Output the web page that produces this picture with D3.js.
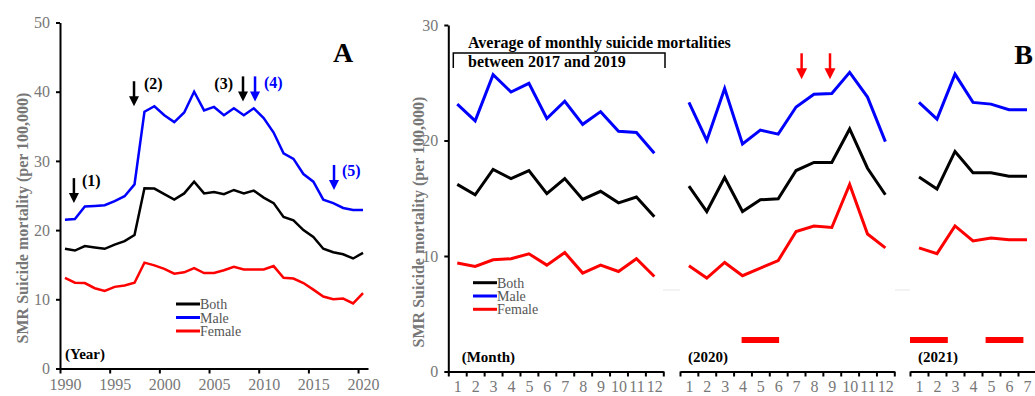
<!DOCTYPE html>
<html>
<head>
<meta charset="utf-8">
<script src="https://cdn.jsdelivr.net/npm/d3@7/dist/d3.min.js"></script>
<style>
  html, body { margin: 0; padding: 0; background: #fff; }
  svg { display: block; font-family: "Liberation Serif", "Times New Roman", serif; }
</style>
</head>
<body>
<svg id="chart" width="1035" height="396"></svg>
<script>
// ---- Panel A: yearly SMR suicide mortality (per 100,000) ----
const years = [1990,1991,1992,1993,1994,1995,1996,1997,1998,1999,2000,2001,2002,2003,2004,2005,
               2006,2007,2008,2009,2010,2011,2012,2013,2014,2015,2016,2017,2018,2019,2020];
const yearBoth   = [17.3,17.05,17.7,17.5,17.3,17.9,18.4,19.3,26.05,26.0,25.2,24.4,25.3,27.0,25.3,25.5,
                    25.2,25.8,25.3,25.7,24.7,23.9,21.9,21.4,20.0,19.0,17.3,16.8,16.5,15.9,16.7];
const yearMale   = [21.5,21.6,23.4,23.5,23.6,24.2,24.9,26.6,37.1,37.9,36.6,35.6,37.0,40.0,37.3,37.8,
                    36.6,37.6,36.6,37.6,36.2,34.1,31.1,30.3,28.1,27.0,24.4,23.9,23.2,22.9,22.9];
const yearFemale = [13.1,12.4,12.35,11.6,11.2,11.8,12.0,12.4,15.3,14.9,14.4,13.7,13.9,14.5,13.8,13.8,
                    14.2,14.7,14.3,14.3,14.3,14.8,13.1,13.0,12.35,11.4,10.4,10.0,10.1,9.4,10.9];
const yearTickLabels = [1990,1995,2000,2005,2010,2015,2020];
const yearYTicks = [0,10,20,30,40,50];

// Arrow markers in panel A (year position, arrow-tip value)
const yearArrows = [
  {label: "(1)", year: 1990.9, tip: 23.9, color: "#000", dx: 8,   dy: -17, anchor: "start"},
  {label: "(2)", year: 1996.95, tip: 37.9, color: "#000", dx: 10, dy: -17, anchor: "start"},
  {label: "(3)", year: 2007.92, tip: 38.6, color: "#000", dx: -10, dy: -12, anchor: "end"},
  {label: "(4)", year: 2009.13, tip: 38.6, color: "#0000ff", dx: 9, dy: -13, anchor: "start"},
  {label: "(5)", year: 2017.08, tip: 25.8, color: "#0000ff", dx: 8, dy: -14, anchor: "start"}
];

// ---- Panel B: monthly SMR suicide mortality ----
const months = [1,2,3,4,5,6,7,8,9,10,11,12];
const avgBoth   = [16.2,15.3,17.5,16.7,17.4,15.4,16.7,14.9,15.6,14.6,15.1,13.4];
const avgMale   = [23.15,21.7,25.7,24.2,24.95,21.9,23.4,21.4,22.5,20.8,20.7,18.9];
const avgFemale = [9.39,9.09,9.67,9.76,10.19,9.21,10.3,8.52,9.21,8.66,9.76,8.23];

const y2020Both   = [16.05,13.85,16.8,13.85,14.87,14.95,17.4,18.1,18.1,21.0,17.6,15.3];
const y2020Male   = [23.3,20.0,24.5,19.7,20.9,20.55,22.9,24.0,24.07,25.9,23.76,19.9];
const y2020Female = [9.15,8.09,9.44,8.29,8.95,9.61,12.12,12.6,12.47,16.2,11.9,10.7];

const y2021Both   = [16.83,15.8,19.05,17.2,17.2,16.9,16.9];
const y2021Male   = [23.3,21.85,25.75,23.3,23.15,22.66,22.66];
const y2021Female = [10.7,10.2,12.6,11.3,11.55,11.4,11.4];

const monthYTicks = [0,10,20,30];

// State-of-emergency periods (month boundaries, 0 = start of January)
const emergency2020 = [[3.45, 5.55]];
const emergency2021 = [[0, 2.1], [4.2, 6.3]];
// Red arrows in 2020 (month position, arrow-tip value)
const arrows2020 = [{month: 7.31, tip: 25.3}, {month: 8.9, tip: 25.3}];

const seriesNames  = ["Both", "Male", "Female"];
const seriesColors = ["#000000", "#0000ff", "#ff0000"];

const svg = d3.select("#chart");
const tickGray = "#777";

// ---------- helpers ----------
function drawArrow(g, x, yTip, color, len, headW, headH, sw) {
  g.append("line")
    .attr("x1", x).attr("x2", x)
    .attr("y1", yTip - len).attr("y2", yTip - headH + 1)
    .attr("stroke", color).attr("stroke-width", sw);
  g.append("path")
    .attr("d", `M${x - headW / 2},${yTip - headH} L${x + headW / 2},${yTip - headH} L${x},${yTip} Z`)
    .attr("fill", color);
}

function styleYAxis(g) {
  g.select(".domain").attr("stroke", "#000").attr("stroke-width", 2);
  g.selectAll(".tick line").attr("stroke", "#000").attr("stroke-width", 2);
  g.selectAll(".tick text")
    .attr("fill", tickGray)
    .attr("font-size", 16)
    .attr("font-family", "Liberation Serif, serif")
    .attr("x", -10);
}

function yLabel(x, yc, text) {
  svg.append("text")
    .attr("transform", `translate(${x},${yc}) rotate(-90)`)
    .attr("text-anchor", "middle")
    .attr("dy", "0.35em")
    .attr("font-size", 16)
    .attr("font-weight", "bold")
    .attr("fill", tickGray)
    .text(text);
}

function legend(x, y0, step) {
  seriesNames.forEach((name, i) => {
    const yy = y0 + i * step;
    svg.append("line")
      .attr("x1", x).attr("x2", x + 24)
      .attr("y1", yy).attr("y2", yy)
      .attr("stroke", seriesColors[i]).attr("stroke-width", 3);
    svg.append("text")
      .attr("x", x + 24).attr("y", yy + 5)
      .attr("font-size", 14)
      .attr("fill", "#555")
      .text(name);
  });
}

// ================= Panel A =================
const xA = d3.scaleLinear().domain([1989.5, 2020.5]).range([60, 368]);
const yA = d3.scaleLinear().domain([0, 50]).range([368.5, 22.5]);

const gAy = svg.append("g").attr("transform", "translate(60,0)")
  .call(d3.axisLeft(yA).tickValues(yearYTicks).tickSize(4).tickSizeOuter(0).tickPadding(10));
styleYAxis(gAy);

// x axis: boundary ticks every five years, labels centred on the year
const gAx = svg.append("g").attr("transform", `translate(0,${yA(0)})`);
gAx.call(d3.axisBottom(xA).tickValues(yearTickLabels.map(v => v - 0.5)).tickSize(5).tickSizeOuter(0).tickFormat(""));
gAx.select(".domain").attr("stroke", "#000").attr("stroke-width", 2);
gAx.selectAll(".tick line").attr("stroke", "#000").attr("stroke-width", 2);
const gAxl = svg.append("g").attr("transform", `translate(0,${yA(0)})`);
gAxl.call(d3.axisBottom(xA).tickValues(yearTickLabels).tickSize(0).tickFormat(d3.format("d")));
gAxl.select(".domain").remove();
gAxl.selectAll(".tick text").attr("y", 21.5).attr("dy", 0)
  .attr("fill", tickGray).attr("font-size", 16).attr("font-family", "Liberation Serif, serif");

const lineA = d3.line().x((d, i) => xA(years[i])).y(d => yA(d));
[yearBoth, yearMale, yearFemale].forEach((s, i) => {
  svg.append("path").datum(s)
    .attr("d", lineA)
    .attr("fill", "none")
    .attr("stroke", seriesColors[i])
    .attr("stroke-width", 2.5);
});

yearArrows.forEach(a => {
  const x = xA(a.year), yt = yA(a.tip);
  drawArrow(svg, x, yt, a.color, 25, 10, 10, 2.5);
  svg.append("text")
    .attr("x", x + a.dx).attr("y", yt + a.dy)
    .attr("text-anchor", a.anchor)
    .attr("font-size", 16).attr("font-weight", "bold")
    .attr("fill", a.color)
    .text(a.label);
});

svg.append("text").attr("x", 333).attr("y", 62)
  .attr("font-size", 28).attr("font-weight", "bold").text("A");
svg.append("text").attr("x", 65).attr("y", 359)
  .attr("font-size", 15).attr("font-weight", "bold").text("(Year)");
legend(176, 304, 13.5);
yLabel(22, 218, "SMR Suicide mortality (per 100,000)");

// ================= Panel B =================
const yB = d3.scaleLinear().domain([0, 30]).range([371.5, 25]);
const segments = [
  {x0: 448.3, x1: 663.3, data: [avgBoth, avgMale, avgFemale], tag: "(Month)", bars: []},
  {x0: 680,   x1: 894.3, data: [y2020Both, y2020Male, y2020Female], tag: "(2020)", bars: emergency2020},
  {x0: 910,   x1: 1126,  data: [y2021Both, y2021Male, y2021Female], tag: "(2021)", bars: emergency2021}
];

const gBy = svg.append("g").attr("transform", "translate(448.3,0)")
  .call(d3.axisLeft(yB).tickValues(monthYTicks).tickSize(4).tickSizeOuter(0).tickPadding(10));
styleYAxis(gBy);

segments.forEach((seg, si) => {
  const x = d3.scaleLinear().domain([0.5, 12.5]).range([seg.x0, seg.x1]);
  seg.x = x;
  const gx = svg.append("g").attr("transform", `translate(0,${yB(0)})`);
  gx.call(d3.axisBottom(x).tickValues(d3.range(0.5, 13, 1)).tickSize(5).tickSizeOuter(0).tickFormat(""));
  gx.select(".domain").attr("stroke", "#000").attr("stroke-width", 2);
  gx.selectAll(".tick line").attr("stroke", "#000").attr("stroke-width", 2);
  const gl = svg.append("g").attr("transform", `translate(0,${yB(0)})`);
  // only the months that fall inside the drawing area get a label
  gl.call(d3.axisBottom(x).tickValues(months.filter(m => x(m) < 1035)).tickSize(0).tickFormat(d3.format("d")));
  gl.select(".domain").remove();
  gl.selectAll(".tick text").attr("y", 20).attr("dy", 0)
    .attr("fill", tickGray).attr("font-size", 16).attr("font-family", "Liberation Serif, serif");

  seg.data.forEach((s, i) => {
    const line = d3.line().x((d, k) => x(months[k])).y(d => yB(d));
    svg.append("path").datum(s)
      .attr("d", line)
      .attr("fill", "none")
      .attr("stroke", seriesColors[i])
      .attr("stroke-width", 3);
  });

  seg.bars.forEach(b => {
    svg.append("rect")
      .attr("x", x(b[0] + 0.5)).attr("width", x(b[1] + 0.5) - x(b[0] + 0.5))
      .attr("y", 337).attr("height", 6)
      .attr("fill", "#ff0000");
  });

  svg.append("text").attr("x", seg.x0 + (si === 0 ? 13.4 : 8)).attr("y", 362)
    .attr("font-size", 15).attr("font-weight", "bold").text(seg.tag);
});

// faint axis-break marks between segments
[[663, 680], [895, 910]].forEach(p => {
  svg.append("line").attr("x1", p[0]).attr("x2", p[1]).attr("y1", 290).attr("y2", 290)
    .attr("stroke", "#efefef").attr("stroke-width", 1.5);
});

// bracket over the 2017-2019 average
const bx0 = 453.3, bx1 = 665, by = 53, bh = 15;
svg.append("path")
  .attr("d", `M${bx0},${by + bh} L${bx0},${by} L${bx1},${by} L${bx1},${by + bh}`)
  .attr("fill", "none").attr("stroke", "#000").attr("stroke-width", 1.5);
svg.append("text").attr("x", 468).attr("y", 48)
  .attr("font-size", 16).attr("font-weight", "bold").text("Average of monthly suicide mortalities");
svg.append("text").attr("x", 468).attr("y", 67)
  .attr("font-size", 16).attr("font-weight", "bold").text("between 2017 and 2019");

arrows2020.forEach(a => {
  drawArrow(svg, segments[1].x(a.month), yB(a.tip), "#ff0000", 26, 11, 11, 2.5);
});

svg.append("text").attr("x", 1033).attr("y", 64).attr("text-anchor", "end")
  .attr("font-size", 28).attr("font-weight", "bold").text("B");
legend(473, 282.7, 13.3);
yLabel(418, 222, "SMR Suicide mortality (per 100,000)");
</script>
</body>
</html>
